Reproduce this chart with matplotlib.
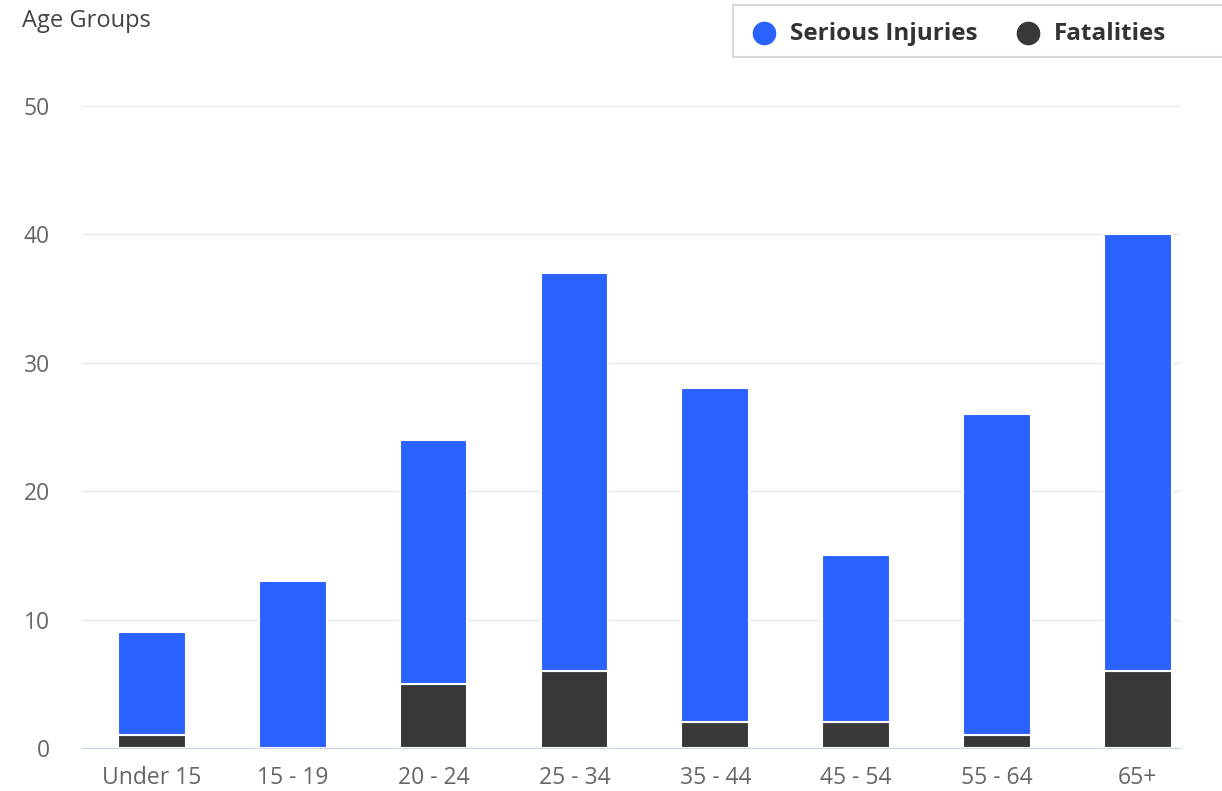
import matplotlib.pyplot as plt
from matplotlib.patches import Rectangle
from matplotlib.lines import Line2D
import numpy as np

plt.rcParams['font.family'] = ['Open Sans', 'DejaVu Sans']

groups = ['Under 15', '15 - 19', '20 - 24', '25 - 34', '35 - 44', '45 - 54', '55 - 64', '65+']
fatalities = [1, 0, 5, 6, 2, 2, 1, 6]
serious = [8, 13, 19, 31, 26, 13, 25, 34]

blue = '#2962ff'
dark = '#383838'

fig = plt.figure(figsize=(12.22, 7.91), dpi=100)
ax = fig.add_axes([82/1222, 1-748/791, (1180-82)/1222, (748-106)/791])

x = np.arange(len(groups))
ax.bar(x, fatalities, width=0.48, color=dark, edgecolor='white', linewidth=1.5, zorder=3)
ax.bar(x, serious, bottom=fatalities, width=0.48, color=blue, edgecolor='white', linewidth=1.5, zorder=3)

ax.set_ylim(0, 50)
ax.set_xlim(-0.497, 7.3)
ax.set_yticks([0, 10, 20, 30, 40, 50])
ax.set_xticks(x)
ax.set_xticklabels(groups)
ax.grid(axis='y', color='#e6e6e6', linewidth=1, zorder=0)
for s in ['top', 'right', 'left']:
    ax.spines[s].set_visible(False)
ax.spines['bottom'].set_color('#ccd6eb')
ax.spines['bottom'].set_zorder(4)
ax.tick_params(axis='both', length=0, labelsize=16.5, colors='#666666')
ax.tick_params(axis='x', pad=13)
ax.tick_params(axis='y', pad=23)

fig.text(22/1222, 1-21/791, 'Age Groups', fontsize=17, color='#444444', va='center', ha='left')

# legend box
fig.patches.append(Rectangle((733/1222, 1-57/791), 500/1222, 52/791, transform=fig.transFigure,
                             facecolor='white', edgecolor='#d8d8d8', linewidth=1.5))
fig.add_artist(Line2D([764/1222], [1-33/791], marker='o', markersize=16, color=blue, transform=fig.transFigure))
fig.text(790/1222, 1-34/791, 'Serious Injuries', fontsize=17.5, fontweight='bold', color='#333333', va='center')
fig.add_artist(Line2D([1028/1222], [1-33/791], marker='o', markersize=16, color=dark, transform=fig.transFigure))
fig.text(1054/1222, 1-34/791, 'Fatalities', fontsize=17.5, fontweight='bold', color='#333333', va='center')

fig.savefig('out.png', dpi=100)
